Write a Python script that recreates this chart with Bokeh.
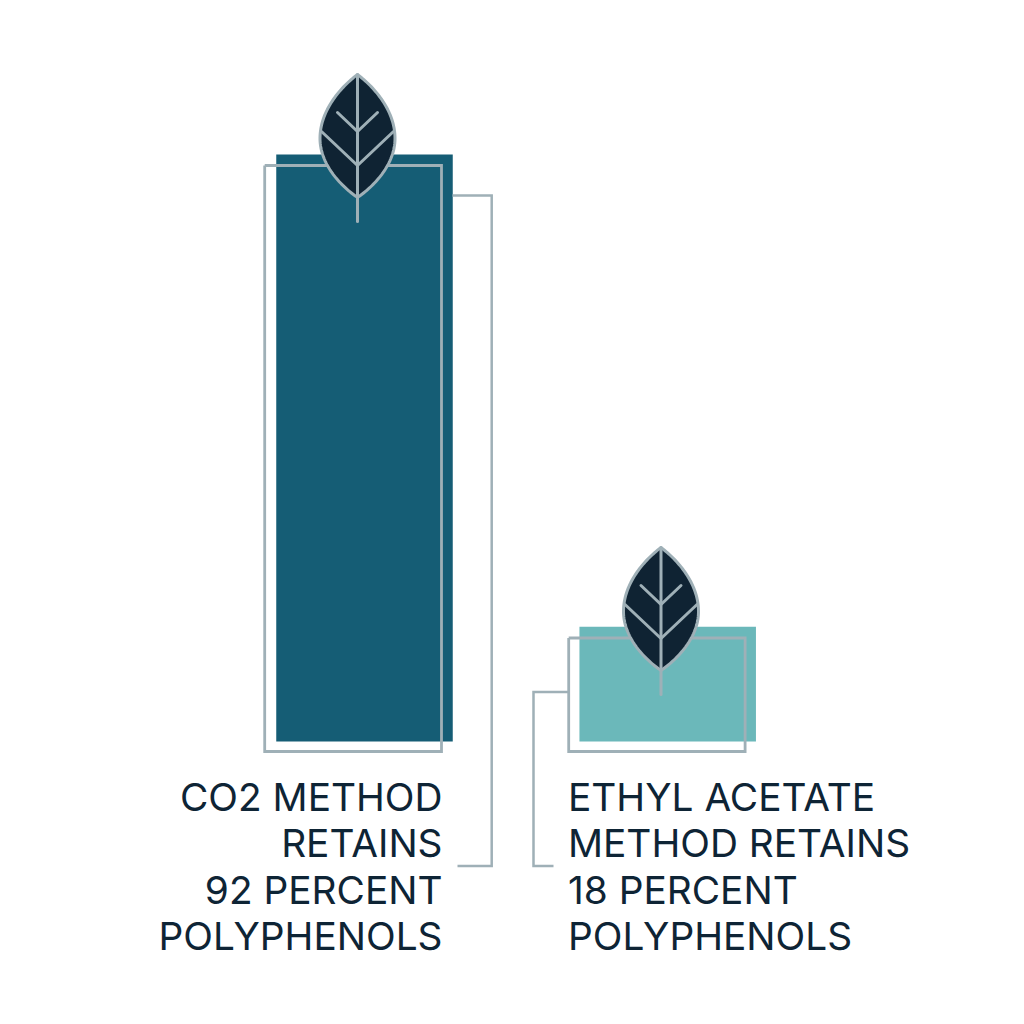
import numpy as np
from bokeh.plotting import figure
from bokeh.models import Range1d
from bokeh.core.properties import value
from bokeh.embed import file_html
from bokeh.resources import INLINE

categories = ["CO2 method", "Ethyl acetate method"]
retained = [92, 18]
bar_colors = ["#155d75", "#6bb8ba"]
labels_left = ["CO2 METHOD", "RETAINS", "92 PERCENT", "POLYPHENOLS"]
labels_right = ["ETHYL ACETATE", "METHOD RETAINS", "18 PERCENT", "POLYPHENOLS"]

LINE = "#9fb0b7"
DARK = "#0f2333"
INK = "#0e2435"
FONT = "Inter"
FSIZE = "38.8px"

W = H = 1008
OFF = 0
BASE_PX, TOP_PX = 741, 154
per_unit = (BASE_PX - TOP_PX) / retained[0]

p = figure(width=W, height=H, output_backend="svg", toolbar_location=None,
           x_range=Range1d(OFF, OFF + W),
           y_range=Range1d((BASE_PX - (OFF + H)) / per_unit, (BASE_PX - OFF) / per_unit),
           min_border=0, outline_line_color=None, background_fill_color="white")
p.xaxis.visible = False
p.yaxis.visible = False
p.grid.visible = False
p.extra_y_ranges["px"] = Range1d(OFF + H, OFF)

# bars
p.vbar(x=[364, 667.2], top=retained, bottom=0, width=176.5, fill_color=bar_colors, line_color=None)

def poly(xs, ys, w=2.8):
    p.line(xs, ys, y_range_name="px", line_color=LINE, line_width=w,
           line_join="miter", line_cap="butt")

# frames and connectors
poly([264.2, 441, 441, 264.2, 264.2], [165, 165, 751, 751, 165])
poly([452, 491.2, 491.2, 457], [195, 195, 865.5, 865.5], 2.5)
poly([568.2, 744.6, 744.6, 568.2, 568.2], [637.5, 637.5, 751, 751, 637.5])
poly([568.2, 533, 533, 553], [691.5, 691.5, 865.5, 865.5], 2.5)

def bez(p0, p1, p2, p3, n=40):
    t = np.linspace(0, 1, n)[:, None]
    a = np.array
    return ((1-t)**3*a(p0) + 3*(1-t)**2*t*a(p1) + 3*(1-t)*t**2*a(p2) + t**3*a(p3))

def leaf(cx, tip):
    # right half outline, relative to the tip of the leaf
    up = bez((0, 0), (16, 12), (37, 35), (37.5, 63))
    lo = bez((37.5, 63), (38, 90), (16, 112), (0, 123))
    right = np.vstack([up, lo])
    left = right[::-1] * [-1, 1]
    pts = np.vstack([right, left])
    p.patch(cx + pts[:, 0], tip + pts[:, 1], y_range_name="px", fill_color=DARK,
            line_color=LINE, line_width=3, line_join="round")
    for xs, ys in [([0, 0], [0, 147]),
                   ([-36, 0, 36], [57, 91, 57]),
                   ([-20, 0, 20], [38, 57, 38])]:
        p.line(cx + np.array(xs), tip + np.array(ys), y_range_name="px", line_color=LINE,
               line_width=3, line_join="miter", line_cap="round")

leaf(357, 74)
leaf(660.5, 547)

# labels
baselines = [795.5, 841.5, 888.5, 934.5]
p.text([442] * 4, baselines, text=labels_left, y_range_name="px", text_align="right",
       text_baseline="alphabetic", text_font=value(FONT), text_font_size=value(FSIZE), text_color=INK)
p.text([567.5] * 4, baselines, text=labels_right, y_range_name="px", text_align="left",
       text_baseline="alphabetic", text_font=value(FONT), text_font_size=value(FSIZE), text_color=INK)

open("out.html", "w").write(file_html(p, INLINE))
